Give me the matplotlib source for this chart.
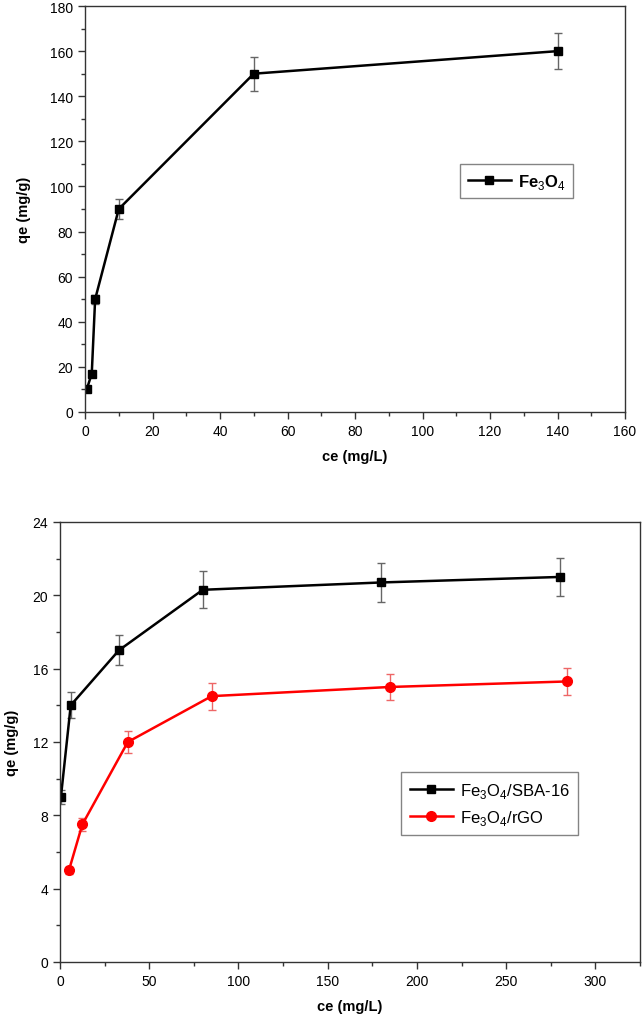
import matplotlib
matplotlib.use("Agg")
import matplotlib.pyplot as plt
from matplotlib.ticker import MultipleLocator

plt.rcParams['font.family'] = ['Liberation Sans', 'DejaVu Sans']
plt.rcParams['mathtext.fontset'] = 'custom'
plt.rcParams['mathtext.rm'] = 'Liberation Sans'
plt.rcParams['mathtext.bf'] = 'Liberation Sans:bold'

# top panel: Fe3O4
ce_fe = [0.5, 2, 3, 10, 50, 140]
qe_fe = [10, 17, 50, 90, 150, 160]
err_fe = [0.8, 1.0, 2.0, 4.5, 7.5, 8.0]

# bottom panel: Fe3O4/SBA-16 and Fe3O4/rGO
ce_sba = [0.5, 6, 33, 80, 180, 280]
qe_sba = [9.0, 14.0, 17.0, 20.3, 20.7, 21.0]
err_sba = [0.4, 0.7, 0.82, 1.0, 1.04, 1.05]

ce_rgo = [5, 12.5, 38, 85, 185, 284]
qe_rgo = [5.0, 7.5, 12.0, 14.5, 15.0, 15.3]
err_rgo = [0.2, 0.36, 0.6, 0.73, 0.73, 0.76]

fig = plt.figure(figsize=(6.44, 10.2), dpi=100)
ax1 = fig.add_axes([0.132, 0.5951, 0.8385, 0.398])
ax2 = fig.add_axes([0.0932, 0.0559, 0.9006, 0.4314])


def style(ax):
    for s in ax.spines.values():
        s.set_color('#333333')
        s.set_linewidth(1.0)
    ax.tick_params(which='both', direction='out', top=False, right=False,
                   color='#333333', labelsize=10)
    ax.tick_params(which='major', length=5, width=1)
    ax.tick_params(which='minor', length=3, width=1)


c1 = ax1.errorbar(ce_fe, qe_fe, yerr=err_fe, color='black', lw=1.8, marker='s',
                  ms=6, ecolor='#666666', elinewidth=1, capsize=3, capthick=1)
ax1.set_xlim(0, 160)
ax1.set_ylim(0, 180)
ax1.xaxis.set_major_locator(MultipleLocator(20))
ax1.xaxis.set_minor_locator(MultipleLocator(10))
ax1.yaxis.set_major_locator(MultipleLocator(20))
ax1.yaxis.set_minor_locator(MultipleLocator(10))
style(ax1)
ax1.set_xlabel('ce (mg/L)', fontweight='bold', fontsize=10.5, labelpad=8)
ax1.set_ylabel('qe (mg/g)', fontweight='bold', fontsize=10.5, labelpad=14)
leg1 = ax1.legend([c1.lines[0]], [r'Fe$_3$O$_4$'], loc='upper left',
                  bbox_to_anchor=(0.7014, 0.8464),
                  bbox_transform=fig.transFigure, fancybox=False,
                  prop={'weight': 'bold', 'size': 12}, handlelength=2.6,
                  borderpad=0.45, handletextpad=0.4)
leg1.get_frame().set_edgecolor('#666666')
leg1.get_frame().set_linewidth(1)

c2 = ax2.errorbar(ce_sba, qe_sba, yerr=err_sba, color='black', lw=1.8, marker='s',
                  ms=6, ecolor='#666666', elinewidth=1, capsize=3, capthick=1)
c3 = ax2.errorbar(ce_rgo, qe_rgo, yerr=err_rgo, color='#ff0000', lw=1.8, marker='o',
                  ms=7, ecolor='#ee6666', elinewidth=1, capsize=3, capthick=1)
ax2.set_xlim(0, 325)
ax2.set_ylim(0, 24)
ax2.xaxis.set_major_locator(MultipleLocator(50))
ax2.xaxis.set_minor_locator(MultipleLocator(25))
ax2.yaxis.set_major_locator(MultipleLocator(4))
ax2.yaxis.set_minor_locator(MultipleLocator(2))
style(ax2)
ax2.set_xlabel('ce (mg/L)', fontweight='bold', fontsize=10.5, labelpad=8)
ax2.set_ylabel('qe (mg/g)', fontweight='bold', fontsize=10.5, labelpad=10)
leg2 = ax2.legend([c2.lines[0], c3.lines[0]],
                  [r'Fe$_3$O$_4$/SBA-16', r'Fe$_3$O$_4$/rGO'],
                  loc='upper left', bbox_to_anchor=(0.6102, 0.25),
                  bbox_transform=fig.transFigure, fancybox=False,
                  prop={'size': 12}, handlelength=2.6,
                  borderpad=0.5, handletextpad=0.4, labelspacing=0.5)
leg2.get_frame().set_edgecolor('#666666')
leg2.get_frame().set_linewidth(1)

fig.savefig('out.png', dpi=100)
